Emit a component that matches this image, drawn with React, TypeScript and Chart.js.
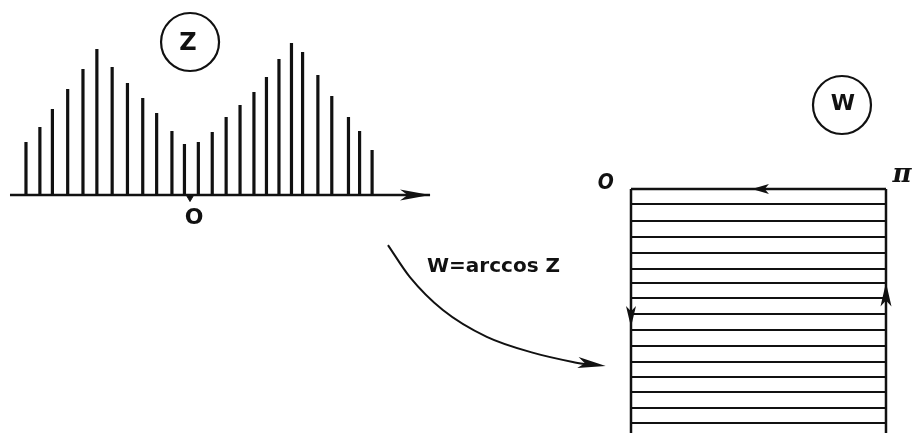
import React, { useEffect, useRef } from "react";
import { Chart, registerables } from "chart.js";

Chart.register(...registerables);

// ---- z-plane: stems (position in stem-spacing units from the origin, height) ----
const stemPositions = [-11.8, -10.8, -9.9, -8.8, -7.7, -6.7, -5.6, -4.5, -3.4, -2.4, -1.3, -0.4, 0.6, 1.6, 2.6, 3.6, 4.6, 5.5, 6.4, 7.3, 8.1, 9.2, 10.2, 11.4, 12.2, 13.1];
const stemHeights = [5.3, 6.8, 8.6, 10.6, 12.6, 14.6, 12.8, 11.2, 9.7, 8.2, 6.4, 5.1, 5.3, 6.3, 7.8, 9.0, 10.3, 11.8, 13.6, 15.2, 14.3, 12.0, 9.9, 7.8, 6.4, 4.5];
const zAxisStart = -12.95;
const zAxisEnd = 17.27;

// ---- w-plane: half-strip 0 <= u <= pi, rows of images ----
const stripLeft = 0;
const stripRight = Math.PI;
const stripBottom = 16;
const rowLevels = [0.96, 2.05, 3.08, 4.1, 5.13, 6.03, 6.99, 8.01, 9.04, 10.06, 11.09, 12.05, 13.01, 14.04, 15.0];

// ---- mapping arrow (page percent) ----
const curveX = [42.4, 44.8, 48.4, 53.2, 58.3, 62.6, 64.5];
const curveY = [56.6, 64.0, 71.6, 77.8, 81.5, 83.6, 84.3];

// ---- labels ----
const planeLabels = ["Z", "W"];
const mapLabel = "W=arccos Z";
const originLabel = "O";
const piLabel = "π";

const labelPlugin = {
  id: "diagramText",
  afterDatasetsDraw(chart: any, _args: any, opts: any) {
    const ctx = chart.ctx;
    ctx.save();
    ctx.fillStyle = "#111";
    (opts.arrows || []).forEach((a: any) => {
      const sx = chart.scales[a.xAxisID];
      const sy = chart.scales[a.yAxisID];
      const tx = sx.getPixelForValue(a.x);
      const ty = sy.getPixelForValue(a.y);
      const ang = (a.angle * Math.PI) / 180;
      const cx = Math.cos(ang);
      const cy = Math.sin(ang);
      const bx = tx - a.len * cx;
      const by = ty - a.len * cy;
      const nx = -cy;
      const ny = cx;
      ctx.beginPath();
      ctx.moveTo(tx, ty);
      ctx.lineTo(bx + a.half * nx, by + a.half * ny);
      ctx.lineTo(bx + a.len * 0.25 * cx, by + a.len * 0.25 * cy);
      ctx.lineTo(bx - a.half * nx, by - a.half * ny);
      ctx.closePath();
      ctx.fill();
    });
    (opts.texts || []).forEach((t: any) => {
      const sx = chart.scales[t.xAxisID];
      const sy = chart.scales[t.yAxisID];
      ctx.font = t.font;
      ctx.textAlign = t.align || "center";
      ctx.textBaseline = "middle";
      const x = sx.getPixelForValue(t.x);
      const y = sy.getPixelForValue(t.y);
      if (t.maxWidth) ctx.fillText(t.text, x, y, t.maxWidth);
      else ctx.fillText(t.text, x, y);
    });
    ctx.restore();
  },
};

export default function App() {
  const ref = useRef<HTMLCanvasElement | null>(null);

  useEffect(() => {
    if (!ref.current) return;
    const ink = "#111";
    const line = (data: any[], xAxisID: string, yAxisID: string, width: number, extra: any = {}) => ({
      type: "line",
      data,
      xAxisID,
      yAxisID,
      borderColor: ink,
      borderWidth: width,
      pointRadius: 0,
      fill: false,
      tension: 0,
      ...extra,
    });

    const datasets: any[] = [
      {
        type: "bar",
        data: stemPositions.map((x, i) => ({ x, y: stemHeights[i] })),
        xAxisID: "xZ",
        yAxisID: "yZ",
        backgroundColor: ink,
        borderWidth: 0,
        grouped: false,
        maxBarThickness: 3.2,
      },
      line([{ x: zAxisStart, y: 0 }, { x: zAxisEnd, y: 0 }], "xZ", "yZ", 2.5),
      {
        type: "scatter",
        data: [{ x: 0, y: -0.25 }],
        xAxisID: "xZ",
        yAxisID: "yZ",
        pointStyle: "triangle",
        rotation: 180,
        pointRadius: 4,
        backgroundColor: ink,
        borderColor: ink,
      },
      // strip outline
      line([{ x: stripLeft, y: 0 }, { x: stripRight, y: 0 }], "xW", "yW", 2.5),
      line([{ x: stripLeft, y: 0 }, { x: stripLeft, y: stripBottom }], "xW", "yW", 2.5),
      line([{ x: stripRight, y: 0 }, { x: stripRight, y: stripBottom }], "xW", "yW", 2.5),
      ...rowLevels.map((v) => line([{ x: stripLeft, y: v }, { x: stripRight, y: v }], "xW", "yW", 2)),
      // mapping curve
      line(curveX.map((x, i) => ({ x, y: curveY[i] })), "xP", "yP", 2, { tension: 0.4, cubicInterpolationMode: "monotone" }),
      // circles around plane labels
      {
        type: "scatter",
        data: [{ x: 20.77, y: 9.7 }, { x: 92.02, y: 24.25 }],
        xAxisID: "xP",
        yAxisID: "yP",
        pointStyle: "circle",
        pointRadius: 29,
        borderWidth: 2.2,
        borderColor: ink,
        backgroundColor: "rgba(0,0,0,0)",
      },
    ];

    const chart = new Chart(ref.current, {
      type: "scatter",
      data: { datasets },
      options: {
        animation: false,
        responsive: false,
        events: [],
        layout: { padding: 0, autoPadding: false },
        plugins: {
          legend: { display: false },
          tooltip: { enabled: false },
          diagramText: {
            arrows: [
              { xAxisID: "xZ", yAxisID: "yZ", x: zAxisEnd, y: 0, angle: 0, len: 30, half: 5.5 },
              { xAxisID: "xP", yAxisID: "yP", x: 66.2, y: 84.5, angle: 7, len: 28, half: 5.5 },
              { xAxisID: "xW", yAxisID: "yW", x: 1.49, y: 0, angle: 180, len: 17, half: 5 },
              { xAxisID: "xW", yAxisID: "yW", x: stripLeft, y: 8.85, angle: 90, len: 21, half: 5 },
              { xAxisID: "xW", yAxisID: "yW", x: stripRight, y: 6.0, angle: -90, len: 24, half: 5.5 },
            ],
            texts: [
              { text: planeLabels[0], xAxisID: "xP", yAxisID: "yP", x: 20.55, y: 10.16, font: "bold 24px 'DejaVu Sans'" },
              { text: planeLabels[1], xAxisID: "xP", yAxisID: "yP", x: 92.13, y: 24.02, font: "bold 22px 'DejaVu Sans'" },
              { text: originLabel, xAxisID: "xZ", yAxisID: "yZ", x: 0.29, y: -2.3, font: "bold 22px 'DejaVu Sans'" },
              { text: originLabel, xAxisID: "xW", yAxisID: "yW", x: -0.31, y: -0.38, font: "italic bold 21px 'DejaVu Sans Condensed', 'DejaVu Sans'" },
              { text: piLabel, xAxisID: "xW", yAxisID: "yW", x: 3.34, y: -0.9, font: "italic bold 26px 'DejaVu Serif'" },
              { text: mapLabel, xAxisID: "xP", yAxisID: "yP", x: 46.67, y: 61.66, font: "bold 20px 'DejaVu Sans'", align: "left", maxWidth: 156 },
            ],
          },
        } as any,
        scales: {
          xZ: { type: "linear", axis: "x", display: false, offset: false, grid: { offset: false }, min: -13.669, max: 52.158 },
          yZ: { type: "linear", axis: "y", display: false, offset: false, min: -23.8, max: 19.5 },
          xW: { type: "linear", axis: "x", display: false, offset: false, min: -7.774, max: 3.499 },
          yW: { type: "linear", axis: "y", display: false, offset: false, reverse: true, min: -12.115, max: 15.641 },
          xP: { type: "linear", axis: "x", display: false, offset: false, min: 0, max: 100 },
          yP: { type: "linear", axis: "y", display: false, offset: false, reverse: true, min: 0, max: 100 },
        } as any,
      },
      plugins: [labelPlugin],
    } as any);

    return () => chart.destroy();
  }, []);

  return (
    <canvas
      ref={ref}
      width={915}
      height={433}
      style={{ position: "fixed", left: 0, top: 0, width: 915, height: 433, background: "#fff" }}
    />
  );
}
